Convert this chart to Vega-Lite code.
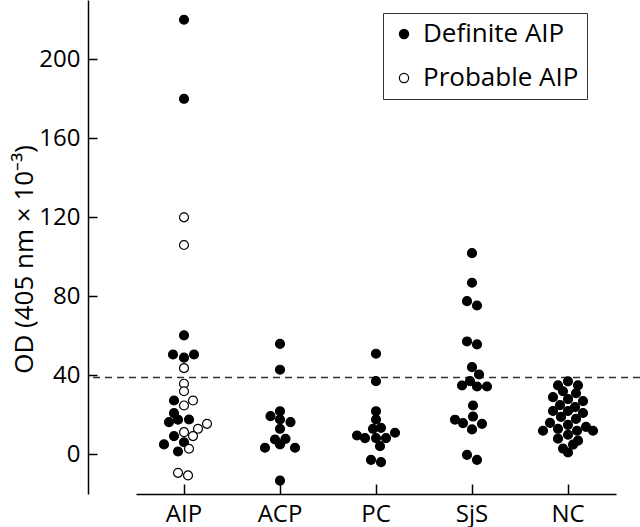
{
  "$schema": "https://vega.github.io/schema/vega-lite/v6.json",
  "width": 552,
  "height": 494,
  "autosize": {"type": "none"},
  "padding": {"left": 88, "top": 0, "right": 0, "bottom": 33},
  "background": "white",
  "config": {
    "view": {"stroke": null},
    "font": "Open Sans",
    "axis": {
      "grid": false,
      "domainColor": "black",
      "domainWidth": 1.5,
      "tickColor": "black",
      "tickWidth": 1.5,
      "labelColor": "black",
      "labelFontSize": 24,
      "titleColor": "black",
      "titleFontSize": 26,
      "titleFontWeight": "normal"
    }
  },
  "datasets": {
    "cut": [{"od": 39}],
    "pts": [
      {"g": "AIP", "od": 220, "t": "Definite AIP", "dx": 0},
      {"g": "AIP", "od": 180, "t": "Definite AIP", "dx": 0},
      {"g": "AIP", "od": 120, "t": "Probable AIP", "dx": 0},
      {"g": "AIP", "od": 106, "t": "Probable AIP", "dx": 0},
      {"g": "AIP", "od": 60.3, "t": "Definite AIP", "dx": 0},
      {"g": "AIP", "od": 50.6, "t": "Definite AIP", "dx": -1.1},
      {"g": "AIP", "od": 49, "t": "Definite AIP", "dx": 0},
      {"g": "AIP", "od": 50.6, "t": "Definite AIP", "dx": 1.0},
      {"g": "AIP", "od": 43.7, "t": "Probable AIP", "dx": 0},
      {"g": "AIP", "od": 35.8, "t": "Probable AIP", "dx": 0},
      {"g": "AIP", "od": 32, "t": "Probable AIP", "dx": 0},
      {"g": "AIP", "od": 27.3, "t": "Definite AIP", "dx": -1.0},
      {"g": "AIP", "od": 27.3, "t": "Probable AIP", "dx": 0.9},
      {"g": "AIP", "od": 24.8, "t": "Probable AIP", "dx": 0},
      {"g": "AIP", "od": 20.9, "t": "Definite AIP", "dx": -1.0},
      {"g": "AIP", "od": 16.4, "t": "Definite AIP", "dx": -1.5},
      {"g": "AIP", "od": 17.6, "t": "Definite AIP", "dx": -0.6},
      {"g": "AIP", "od": 17.7, "t": "Definite AIP", "dx": 0.5},
      {"g": "AIP", "od": 15.5, "t": "Probable AIP", "dx": 2.3},
      {"g": "AIP", "od": 13, "t": "Probable AIP", "dx": 1.4},
      {"g": "AIP", "od": 11.3, "t": "Probable AIP", "dx": 0},
      {"g": "AIP", "od": 9.3, "t": "Probable AIP", "dx": 0.9},
      {"g": "AIP", "od": 9.3, "t": "Definite AIP", "dx": -1.0},
      {"g": "AIP", "od": 6.2, "t": "Definite AIP", "dx": 0},
      {"g": "AIP", "od": 5.1, "t": "Definite AIP", "dx": -2.0},
      {"g": "AIP", "od": 2.9, "t": "Probable AIP", "dx": 0.5},
      {"g": "AIP", "od": 1.5, "t": "Definite AIP", "dx": -0.6},
      {"g": "AIP", "od": -9.3, "t": "Probable AIP", "dx": -0.6},
      {"g": "AIP", "od": -10.6, "t": "Probable AIP", "dx": 0.4},
      {"g": "ACP", "od": 56, "t": "Control", "dx": 0},
      {"g": "ACP", "od": 42.9, "t": "Control", "dx": 0},
      {"g": "ACP", "od": 21.9, "t": "Control", "dx": 0},
      {"g": "ACP", "od": 19.4, "t": "Control", "dx": -0.95},
      {"g": "ACP", "od": 17.7, "t": "Control", "dx": 0},
      {"g": "ACP", "od": 16.4, "t": "Control", "dx": 1.05},
      {"g": "ACP", "od": 13, "t": "Control", "dx": 0},
      {"g": "ACP", "od": 7.6, "t": "Control", "dx": -0.5},
      {"g": "ACP", "od": 7.9, "t": "Control", "dx": 0.55},
      {"g": "ACP", "od": 5.1, "t": "Control", "dx": 0},
      {"g": "ACP", "od": 3.4, "t": "Control", "dx": -1.5},
      {"g": "ACP", "od": 3.4, "t": "Control", "dx": 1.5},
      {"g": "ACP", "od": -13.2, "t": "Control", "dx": 0},
      {"g": "PC", "od": 51, "t": "Control", "dx": 0},
      {"g": "PC", "od": 37.1, "t": "Control", "dx": 0},
      {"g": "PC", "od": 21.9, "t": "Control", "dx": 0},
      {"g": "PC", "od": 17.7, "t": "Control", "dx": 0},
      {"g": "PC", "od": 13, "t": "Control", "dx": -0.3},
      {"g": "PC", "od": 13.5, "t": "Control", "dx": 0.5},
      {"g": "PC", "od": 9.6, "t": "Control", "dx": -1.9},
      {"g": "PC", "od": 8.3, "t": "Control", "dx": -1.1},
      {"g": "PC", "od": 8.3, "t": "Control", "dx": 0},
      {"g": "PC", "od": 8.3, "t": "Control", "dx": 1.0},
      {"g": "PC", "od": 11, "t": "Control", "dx": 1.9},
      {"g": "PC", "od": 4.2, "t": "Control", "dx": 0.4},
      {"g": "PC", "od": -2.7, "t": "Control", "dx": -0.5},
      {"g": "PC", "od": -3.9, "t": "Control", "dx": 0.5},
      {"g": "SjS", "od": 101.9, "t": "Control", "dx": 0},
      {"g": "SjS", "od": 86.9, "t": "Control", "dx": 0},
      {"g": "SjS", "od": 77.6, "t": "Control", "dx": -0.5},
      {"g": "SjS", "od": 75.4, "t": "Control", "dx": 0.5},
      {"g": "SjS", "od": 57.2, "t": "Control", "dx": -0.5},
      {"g": "SjS", "od": 55.7, "t": "Control", "dx": 0.5},
      {"g": "SjS", "od": 44.2, "t": "Control", "dx": 0},
      {"g": "SjS", "od": 40.5, "t": "Control", "dx": 0.7},
      {"g": "SjS", "od": 37.1, "t": "Control", "dx": -0.2},
      {"g": "SjS", "od": 34.9, "t": "Control", "dx": -1.0},
      {"g": "SjS", "od": 34.4, "t": "Control", "dx": 0.5},
      {"g": "SjS", "od": 34.4, "t": "Control", "dx": 1.5},
      {"g": "SjS", "od": 24.8, "t": "Control", "dx": 0.1},
      {"g": "SjS", "od": 19.2, "t": "Control", "dx": 0.1},
      {"g": "SjS", "od": 17.6, "t": "Control", "dx": -1.7},
      {"g": "SjS", "od": 15.9, "t": "Control", "dx": -0.9},
      {"g": "SjS", "od": 15.5, "t": "Control", "dx": 1.0},
      {"g": "SjS", "od": 12.7, "t": "Control", "dx": 0},
      {"g": "SjS", "od": -0.2, "t": "Control", "dx": -0.5},
      {"g": "SjS", "od": -2.7, "t": "Control", "dx": 0.5},
      {"g": "NC", "od": 37, "t": "Control", "dx": 0},
      {"g": "NC", "od": 35, "t": "Control", "dx": -1},
      {"g": "NC", "od": 35, "t": "Control", "dx": 1},
      {"g": "NC", "od": 32, "t": "Control", "dx": -0.5},
      {"g": "NC", "od": 31, "t": "Control", "dx": 0.8},
      {"g": "NC", "od": 29, "t": "Control", "dx": -1.5},
      {"g": "NC", "od": 28, "t": "Control", "dx": 0},
      {"g": "NC", "od": 27, "t": "Control", "dx": 1.5},
      {"g": "NC", "od": 25, "t": "Control", "dx": -0.8},
      {"g": "NC", "od": 24, "t": "Control", "dx": 0.7},
      {"g": "NC", "od": 22, "t": "Control", "dx": -1.5},
      {"g": "NC", "od": 22, "t": "Control", "dx": 0},
      {"g": "NC", "od": 21, "t": "Control", "dx": 1.5},
      {"g": "NC", "od": 19, "t": "Control", "dx": -0.7},
      {"g": "NC", "od": 18, "t": "Control", "dx": 0.8},
      {"g": "NC", "od": 16, "t": "Control", "dx": -1.8},
      {"g": "NC", "od": 15, "t": "Control", "dx": 0},
      {"g": "NC", "od": 14, "t": "Control", "dx": 1.8},
      {"g": "NC", "od": 13, "t": "Control", "dx": -1},
      {"g": "NC", "od": 12, "t": "Control", "dx": 0.9},
      {"g": "NC", "od": 12, "t": "Control", "dx": -2.5},
      {"g": "NC", "od": 12, "t": "Control", "dx": 2.5},
      {"g": "NC", "od": 10, "t": "Control", "dx": 0},
      {"g": "NC", "od": 8, "t": "Control", "dx": -1},
      {"g": "NC", "od": 7, "t": "Control", "dx": 1},
      {"g": "NC", "od": 5, "t": "Control", "dx": 0.5},
      {"g": "NC", "od": 3, "t": "Control", "dx": -0.5},
      {"g": "NC", "od": 1, "t": "Control", "dx": 0}
    ]
  },
  "layer": [
    {
      "data": {"name": "cut"},
      "mark": {"type": "rule", "strokeDash": [7, 5], "strokeWidth": 1.5, "color": "#333333"},
      "encoding": {
        "y": {"field": "od", "type": "quantitative", "scale": {"domain": [-20, 230], "nice": false, "zero": false},
          "axis": {"values": [0, 40, 80, 120, 160, 200], "tickSize": -9, "labelPadding": 17, "title": "OD (405 nm × 10⁻³)", "titlePadding": 1, "titleY": 259}}
      }
    },
    {
      "data": {"name": "pts"},
      "mark": {"type": "point", "shape": "circle", "size": 80, "stroke": "black", "strokeWidth": 1.2, "opacity": 1, "fillOpacity": 1},
      "encoding": {
        "x": {"field": "g", "type": "nominal",
          "scale": {"domain": ["AIP", "ACP", "PC", "SjS", "NC"], "range": [48, 528], "paddingInner": 0, "paddingOuter": 0},
          "axis": {"title": null, "labelAngle": 0, "tickSize": -10, "labelPadding": 18, "bandPosition": 0.5}},
        "xOffset": {"field": "dx", "type": "quantitative", "scale": {"domain": [-4.8, 4.8]}},
        "y": {"field": "od", "type": "quantitative", "scale": {"domain": [-20, 230], "nice": false, "zero": false},
          "axis": {"values": [0, 40, 80, 120, 160, 200], "tickSize": -9, "labelPadding": 17, "title": "OD (405 nm × 10⁻³)", "titlePadding": 1, "titleY": 259}},
        "fill": {"field": "t", "type": "nominal",
          "scale": {"domain": ["Definite AIP", "Probable AIP", "Control"], "range": ["black", "white", "black"]},
          "legend": {"values": ["Definite AIP", "Probable AIP"], "title": null, "orient": "none", "legendX": 295, "legendY": 13,
            "strokeColor": "#333333", "padding": 8, "labelFontSize": 26, "labelColor": "black", "labelOffset": 6,
            "symbolType": "circle", "symbolSize": 85, "symbolStrokeColor": "black", "symbolStrokeWidth": 1.2, "rowPadding": 18}}
      }
    }
  ]
}
